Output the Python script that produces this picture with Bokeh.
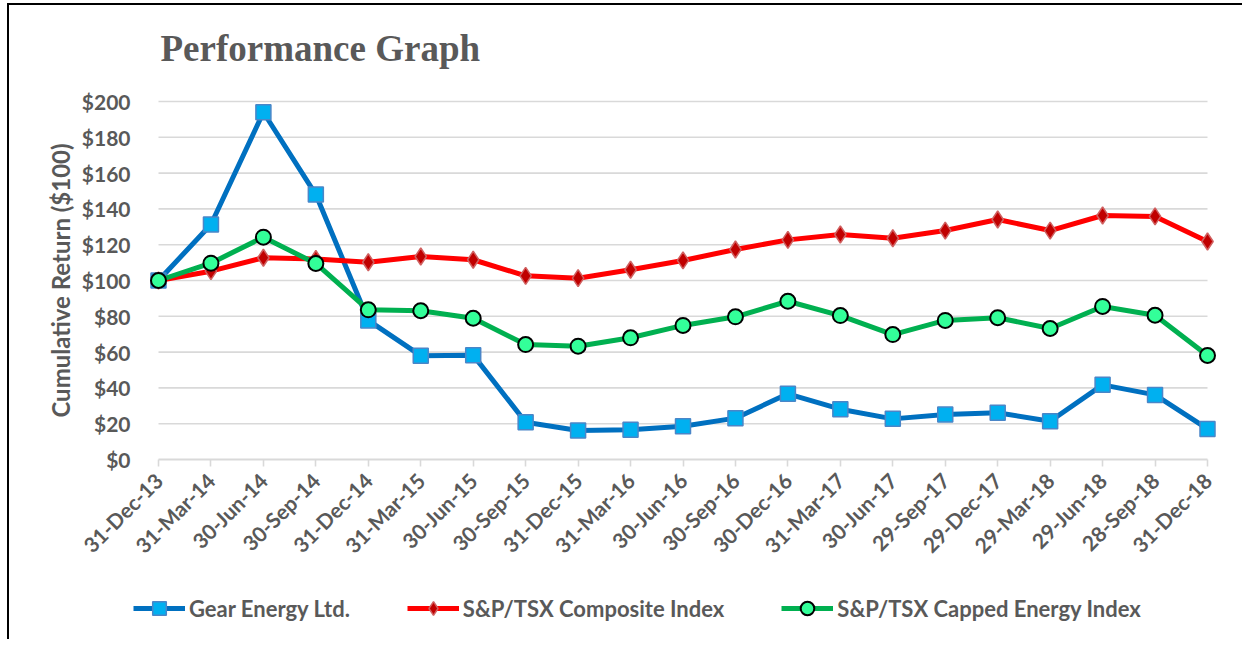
import math
from bokeh.plotting import figure
from bokeh.models import FixedTicker, Legend, LegendItem, Label
from bokeh.embed import file_html
from bokeh.resources import INLINE

dates = ["31-Dec-13", "31-Mar-14", "30-Jun-14", "30-Sep-14", "31-Dec-14", "31-Mar-15",
         "30-Jun-15", "30-Sep-15", "31-Dec-15", "31-Mar-16", "30-Jun-16", "30-Sep-16",
         "30-Dec-16", "31-Mar-17", "30-Jun-17", "29-Sep-17", "29-Dec-17", "29-Mar-18",
         "29-Jun-18", "28-Sep-18", "31-Dec-18"]
gear = [100, 131.3, 194, 148, 77.7, 58, 58.3, 20.8, 16.2, 16.6, 18.6, 23.1,
        36.7, 28.1, 22.7, 25.1, 26.1, 21.4, 41.7, 36.1, 17.1]
composite = [100, 105.2, 112.7, 112, 110.2, 113.4, 111.6, 102.6, 101.3, 106, 111.2, 117.3,
             122.7, 125.7, 123.6, 127.9, 134.1, 127.9, 136.3, 135.8, 121.8]
energy = [100, 109.7, 124.2, 109.5, 83.6, 83.1, 78.9, 64.2, 63.3, 68, 74.9, 79.7,
          88.4, 80.4, 69.8, 77.7, 79.2, 73.2, 85.5, 80.6, 58.1]
y_ticks = [0, 20, 40, 60, 80, 100, 120, 140, 160, 180, 200]
series_names = ["Gear Energy Ltd.", "S&P/TSX Composite Index", "S&P/TSX Capped Energy Index"]
chart_title = "Performance Graph"
y_title = "Cumulative Return ($100)"

x = list(range(len(dates)))
FONT = "Lato"
TXT = "#595959"
GRID = "#d9d9d9"

W, H = 1235, 636
X0_PX, PX_PER_X = 149, 52.45     # canvas position of the first category, spacing
Y0_PX, PX_PER_Y = 454, 1.79      # canvas position of $0, pixels per dollar

# the frame fills the whole canvas, so texts, axes and legend are all inside it
p = figure(width=W, height=H, output_backend="svg", toolbar_location=None,
           x_range=(-X0_PX / PX_PER_X, (W - X0_PX) / PX_PER_X),
           y_range=(-(H - Y0_PX) / PX_PER_Y, Y0_PX / PX_PER_Y),
           min_border=0, min_border_left=0, min_border_right=0,
           min_border_top=0, min_border_bottom=0)
p.styles = {"border-left": "2px solid black", "border-top": "2px solid black",
            "margin-left": "7px", "margin-top": "3px"}
p.title.visible = False
p.outline_line_color = None
p.xgrid.visible = False
p.ygrid.visible = False

# grid lines
gy = y_ticks[1:]
p.segment(x0=[x[0]] * len(gy), x1=[x[-1]] * len(gy), y0=gy, y1=gy,
          line_color=GRID, line_width=1.6)

# x axis, pinned at y = 0
xa = p.xaxis[0]
xa.fixed_location = 0
xa.ticker = FixedTicker(ticks=x)
xa.major_label_overrides = {i: d for i, d in zip(x, dates)}
xa.major_label_orientation = math.pi / 4
xa.bounds = (x[0], x[-1])
xa.axis_line_color = GRID
xa.axis_line_width = 2
xa.major_tick_line_color = GRID
xa.major_tick_line_width = 1.6
xa.major_tick_out = 7
xa.major_tick_in = 0
xa.minor_tick_line_color = None
xa.major_label_text_font = FONT
xa.major_label_text_font_style = "bold"
xa.major_label_text_font_size = "21px"
xa.major_label_text_color = TXT
xa.major_label_standoff = 10

# y axis, pinned at the first category
ya = p.yaxis[0]
ya.fixed_location = 0
ya.ticker = FixedTicker(ticks=y_ticks)
ya.bounds = (y_ticks[0], y_ticks[-1])
ya.major_label_overrides = {v: "$" + str(v) for v in y_ticks}
ya.axis_line_color = None
ya.major_tick_line_color = None
ya.minor_tick_line_color = None
ya.major_label_text_font = FONT
ya.major_label_text_font_style = "bold"
ya.major_label_text_font_size = "21px"
ya.major_label_text_color = TXT
ya.major_label_standoff = 22

# y axis title, centred on the $0-$200 span
p.add_layout(Label(x=(51 - X0_PX) / PX_PER_X, y=(y_ticks[0] + y_ticks[-1]) / 2,
                   text=y_title, angle=math.pi / 2, text_align="center",
                   text_baseline="middle", text_font=FONT, text_font_style="bold",
                   text_font_size="24px", text_color=TXT))

# chart title
p.add_layout(Label(x=(151 - X0_PX) / PX_PER_X, y=(Y0_PX - 43) / PX_PER_Y,
                   text=chart_title, text_align="left", text_baseline="alphabetic",
                   text_font="Liberation Serif", text_font_style="bold",
                   text_font_size="37px", text_color=TXT))

# series
l1 = p.line(x, gear, line_color="#0070C0", line_width=5)
m1 = p.scatter(x, gear, marker="square", size=15, fill_color="#00B0F0",
               line_color="#4A86C8", line_width=1.5)
l2 = p.line(x, composite, line_color="#FF0000", line_width=5)
m2 = p.scatter(x, composite, marker="diamond", size=17, fill_color="#C00000",
               line_color="#D06060", line_width=1.5)
l3 = p.line(x, energy, line_color="#00B050", line_width=5)
m3 = p.scatter(x, energy, marker="circle", size=15, fill_color="#33FF99",
               line_color="black", line_width=2)

legend = Legend(items=[LegendItem(label=series_names[0], renderers=[l1, m1]),
                       LegendItem(label=series_names[1], renderers=[l2, m2]),
                       LegendItem(label=series_names[2], renderers=[l3, m3])],
                orientation="horizontal", location=(124, 16),
                glyph_width=52, glyph_height=34, label_standoff=4, spacing=57,
                padding=0, margin=0, border_line_color=None, background_fill_alpha=0,
                label_text_font=FONT, label_text_font_style="bold",
                label_text_font_size="22px", label_text_color=TXT)
p.add_layout(legend, "center")

open("out.html", "w").write(file_html(p, INLINE))
